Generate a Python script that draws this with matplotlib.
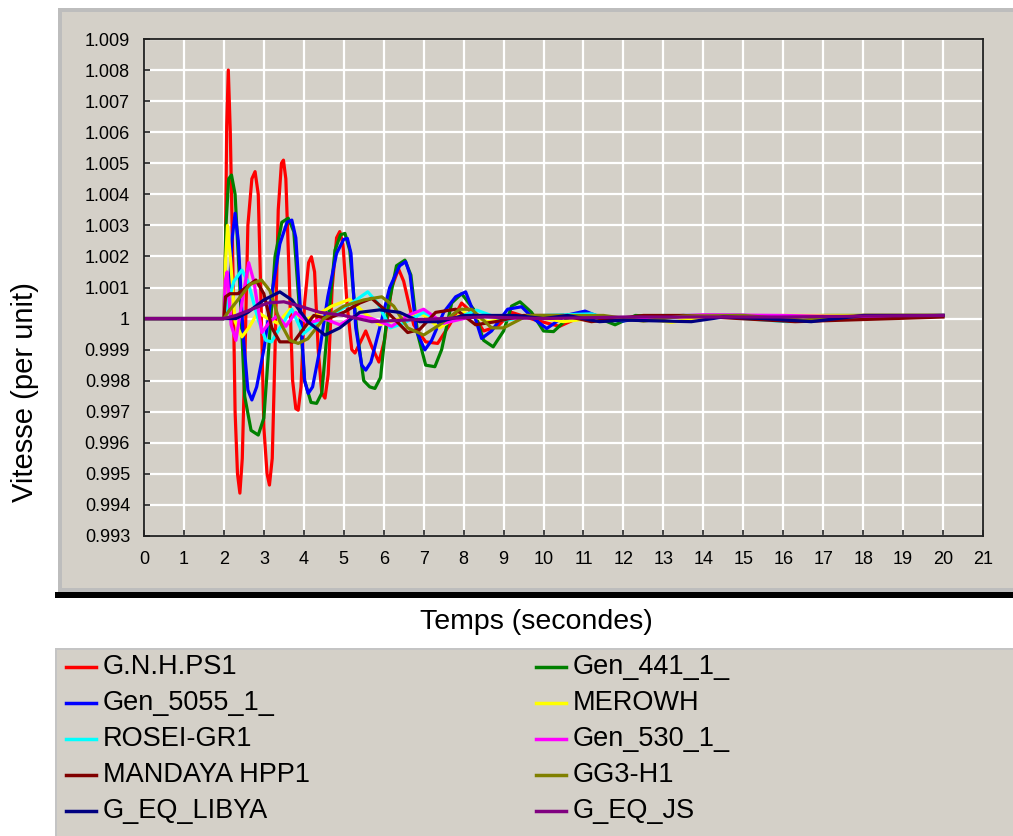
import matplotlib
matplotlib.use("Agg")
from matplotlib import pyplot as plt
from matplotlib.patches import Rectangle
from matplotlib.lines import Line2D

plt.rcParams['font.family'] = ['Liberation Sans', 'DejaVu Sans']

W, H = 1013, 836
PANEL = '#d4d0c8'

# series names / colours (legend order)
names = ['G.N.H.PS1', 'Gen_441_1_', 'Gen_5055_1_', 'MEROWH', 'ROSEI-GR1',
         'Gen_530_1_', 'MANDAYA HPP1', 'GG3-H1', 'G_EQ_LIBYA', 'G_EQ_JS']
colors = ['#ff0000', '#008000', '#0000ff', '#ffff00', '#00ffff',
          '#ff00ff', '#800000', '#808000', '#000080', '#800080']

# values (time in s, speed in p.u.)
t_gnh = [0, 2.0, 2.03, 2.07, 2.11, 2.16, 2.22, 2.28, 2.34, 2.40, 2.46, 2.53, 2.60, 2.70, 2.78,
         2.86, 2.93, 3.00, 3.08, 3.14, 3.21, 3.28, 3.36, 3.44, 3.49, 3.55, 3.63, 3.72, 3.80,
         3.86, 3.93, 4.02, 4.12, 4.19, 4.27, 4.36, 4.45, 4.53, 4.61, 4.71, 4.82, 4.90, 4.98,
         5.08, 5.20, 5.28, 5.40, 5.55, 5.70, 5.88, 6.02, 6.20, 6.37, 6.50, 6.75, 7.05, 7.35,
         7.65, 7.95, 8.20, 8.50, 8.85, 9.20, 9.80, 10.40, 11.0, 12.0, 14.0, 16.0, 18.0, 20.0]
v_gnh = [1.0, 1.0, 1.0012, 1.0062, 1.0080, 1.0060, 1.0020, 0.9970, 0.9950, 0.99438, 0.9955,
         0.9990, 1.0030, 1.0045, 1.00473, 1.0040, 1.0005, 0.9965, 0.9950, 0.99464, 0.9955,
         0.9990, 1.0035, 1.0050, 1.0051, 1.0045, 1.0015, 0.9980, 0.9971, 0.99705, 0.9978,
         1.0005, 1.0018, 1.00199, 1.0015, 0.9990, 0.9976, 0.99744, 0.9982, 1.0010, 1.0026,
         1.0028, 1.0024, 1.0005, 0.9990, 0.99889, 0.9992, 0.9996, 0.9991, 0.99860, 0.9993,
         1.0010, 1.0016, 1.0012, 0.9998, 0.99925, 0.99920, 0.9998, 1.0005, 1.0002, 0.9996,
         0.99975, 1.0002, 0.99995, 0.99975, 1.0001, 1.0, 1.00008, 1.00005, 1.0001, 1.0001]

t_441 = [0, 2.0, 2.05, 2.12, 2.19, 2.28, 2.40, 2.52, 2.68, 2.86, 3.00, 3.12, 3.28, 3.45, 3.61,
         3.75, 3.88, 4.02, 4.18, 4.32, 4.45, 4.60, 4.78, 4.92, 5.03, 5.15, 5.32, 5.50, 5.65,
         5.78, 5.92, 6.10, 6.32, 6.53, 6.68, 6.85, 7.05, 7.28, 7.45, 7.70, 7.95, 8.25, 8.50,
         8.74, 9.00, 9.20, 9.41, 9.70, 10.0, 10.25, 10.6, 10.99, 11.4, 11.79, 12.3, 13.0,
         14.0, 15.0, 16.0, 17.0, 18.0, 20.0]
v_441 = [1.0, 1.0, 1.0030, 1.0045, 1.00462, 1.0040, 1.0010, 0.9975, 0.9964, 0.99625, 0.9968,
         0.9990, 1.0020, 1.0031, 1.00323, 1.0028, 1.0005, 0.9980, 0.9973, 0.99727, 0.9976,
         0.9998, 1.0022, 1.0027, 1.00274, 1.0022, 0.9997, 0.9980, 0.9978, 0.99775, 0.9981,
         1.0003, 1.0017, 1.00188, 1.0014, 0.9995, 0.9985, 0.99845, 0.9990, 1.0005, 1.0008,
         1.0003, 0.9993, 0.99909, 0.9996, 1.0004, 1.00054, 1.0002, 0.9996, 0.99958, 1.0000,
         1.0002, 1.0000, 0.9998, 1.0001, 1.00005, 1.0001, 1.0001, 1.00005, 1.0001, 1.0001,
         1.0001]

t_5055 = [0, 2.0, 2.12, 2.20, 2.28, 2.36, 2.48, 2.60, 2.70, 2.82, 3.00, 3.20, 3.40, 3.58, 3.70,
          3.80, 3.92, 4.02, 4.11, 4.22, 4.40, 4.60, 4.82, 5.00, 5.09, 5.18, 5.30, 5.45, 5.55,
          5.68, 5.90, 6.15, 6.40, 6.55, 6.66, 6.82, 7.03, 7.20, 7.50, 7.80, 8.05, 8.22, 8.45,
          8.70, 9.10, 9.45, 9.75, 10.08, 10.55, 11.04, 11.5, 12.0, 12.6, 13.5, 15.0, 17.0, 20.0]
v_5055 = [1.0, 1.0, 1.0005, 1.0025, 1.00339, 1.0025, 0.9995, 0.9977, 0.99738, 0.9978, 0.9990,
          1.0008, 1.0024, 1.0031, 1.00317, 1.0026, 1.0002, 0.9980, 0.99759, 0.9978, 0.9990,
          1.0007, 1.0021, 1.00255, 1.00258, 1.0021, 0.9997, 0.9985, 0.99834, 0.9986, 0.9997,
          1.0010, 1.0017, 1.00183, 1.0014, 0.9996, 0.99899, 0.9993, 1.0002, 1.0007, 1.00086,
          1.0003, 0.99936, 0.9996, 1.0003, 1.00038, 1.0000, 0.99968, 1.0001, 1.00024, 1.0000,
          0.99992, 1.00005, 1.0001, 1.0001, 1.00005, 1.0001]

t_mero = [0, 2.0, 2.04, 2.09, 2.16, 2.28, 2.45, 2.62, 2.85, 3.10, 3.35, 3.65, 4.0, 4.3, 4.7,
          5.15, 5.5, 5.9, 6.4, 6.9, 7.4, 8.0, 8.6, 9.6, 10.5, 11.5, 12.5, 13.2, 14.0, 16.0, 20.0]
v_mero = [1.0, 1.0, 1.0018, 1.0030, 1.0020, 0.9999, 0.99941, 0.9997, 1.0002, 1.0000, 0.99985,
          1.0003, 0.99995, 1.0001, 1.0004, 1.00062, 1.0002, 0.9998, 1.0000, 1.0002, 0.9997,
          1.0002, 0.9999, 1.0001, 0.9999, 1.00005, 1.0, 0.99988, 1.00005, 1.0001, 1.0001]

t_rosei = [0, 2.0, 2.1, 2.25, 2.45, 2.6, 2.85, 3.05, 3.19, 3.4, 3.7, 3.98, 4.3, 4.8, 5.2, 5.6,
           5.85, 6.16, 6.5, 7.0, 7.5, 8.33, 9.0, 10.0, 11.2, 11.8, 13.0, 14.5, 16.1, 18.0, 20.0]
v_rosei = [1.0, 1.0, 1.0005, 1.0012, 1.00156, 1.0012, 1.0000, 0.9993, 0.99925, 0.9997, 1.0003,
           0.9995, 0.99985, 1.0002, 1.0005, 1.00086, 1.0005, 0.9997, 0.99985, 1.0002, 0.99985,
           1.00027, 0.99995, 1.0001, 1.00015, 0.99993, 1.0001, 1.00005, 0.9999, 1.00005, 1.0001]

t_530 = [0, 2.0, 2.03, 2.08, 2.18, 2.30, 2.45, 2.62, 2.75, 2.95, 3.15, 3.35, 3.55, 3.8, 4.1,
         4.5, 4.9, 5.3, 5.7, 6.2, 6.6, 7.0, 7.5, 8.0, 8.5, 9.3, 10.5, 12.0, 14.0, 16.0, 18.0, 20.0]
v_530 = [1.0, 1.0, 1.0012, 1.0015, 0.9998, 0.9993, 1.0005, 1.0018, 1.0012, 0.99955, 0.9999,
         1.0001, 0.99975, 1.0002, 0.99985, 1.0000, 0.9998, 1.0001, 1.0000, 0.99975, 1.0001,
         1.0003, 0.99985, 1.0000, 1.0001, 1.0000, 1.0001, 1.0000, 1.00012, 1.0001, 1.00005,
         1.0001]

t_mand = [0, 2.0, 2.04, 2.15, 2.35, 2.55, 2.80, 3.0, 3.2, 3.40, 3.75, 3.95, 4.25, 4.6, 5.0,
          5.4, 5.70, 6.1, 6.6, 6.9, 7.3, 7.8, 8.3, 8.8, 9.5, 10.5, 11.2, 12.5, 13.5, 16.3, 20.0]
v_mand = [1.0, 1.0, 1.0007, 1.0008, 1.0008, 1.0010, 1.00124, 1.0008, 0.9997, 0.99925, 0.99925,
          0.9996, 1.0001, 1.0000, 1.0002, 1.0005, 1.00065, 1.0002, 0.99955, 0.99965, 1.0002,
          1.0003, 0.9998, 0.9999, 1.0001, 1.0001, 0.9999, 1.0001, 1.0001, 0.9999, 1.00005]

t_gg3 = [0, 2.0, 2.1, 2.35, 2.65, 2.94, 3.15, 3.40, 3.65, 3.86, 4.1, 4.5, 5.0, 5.5, 5.95, 6.25,
         6.6, 7.0, 7.4, 7.9, 8.2, 8.7, 9.0, 9.6, 10.2, 11.5, 12.5, 13.5, 15.0, 16.5, 18.0, 20.0]
v_gg3 = [1.0, 1.0, 1.0002, 1.0006, 1.0011, 1.00124, 1.0009, 0.9999, 0.9993, 0.9992, 0.99935,
         1.0000, 1.0004, 1.0006, 1.0007, 1.0004, 0.9997, 0.99947, 0.9998, 1.0003, 1.0003,
         0.9997, 0.9997, 1.0001, 1.0001, 1.0001, 0.99992, 1.00008, 1.0001, 0.99995, 1.0001,
         1.0001]

t_libya = [0, 2.0, 2.3, 2.6, 3.0, 3.40, 3.7, 4.1, 4.53, 4.9, 5.4, 5.9, 6.4, 6.9, 7.4, 8.0, 8.6,
           9.3, 10.0, 10.6, 11.4, 12.0, 13.7, 14.5, 15.5, 16.7, 18.0, 19.5, 20.0]
v_libya = [1.0, 1.0, 1.0, 1.0002, 1.0006, 1.00086, 1.0006, 0.9999, 0.99947, 0.9997, 1.0002,
           1.00028, 1.0002, 0.9999, 0.9999, 1.0001, 1.0001, 1.0001, 1.0000, 1.0001, 0.9999,
           0.99995, 0.9999, 1.00005, 1.0000, 0.9999, 1.0001, 1.0001, 1.0001]

t_js = [0, 2.0, 2.3, 2.7, 3.1, 3.5, 3.9, 4.4, 5.0, 5.7, 6.5, 7.5, 8.5, 10.0, 12.0, 14.0, 16.0,
        18.0, 20.0]
v_js = [1.0, 1.0, 1.0001, 1.0003, 1.0005, 1.00054, 1.0004, 1.0002, 1.0001, 0.9999, 0.99995,
        1.0, 1.00005, 1.0, 1.00005, 1.00005, 1.00005, 1.00008, 1.0001]

series = [(t_gnh, v_gnh), (t_441, v_441), (t_5055, v_5055), (t_mero, v_mero),
          (t_rosei, v_rosei), (t_530, v_530), (t_mand, v_mand), (t_gg3, v_gg3),
          (t_libya, v_libya), (t_js, v_js)]

x_ticks = list(range(0, 22))
y_ticks = [0.993, 0.994, 0.995, 0.996, 0.997, 0.998, 0.999, 1.0,
           1.001, 1.002, 1.003, 1.004, 1.005, 1.006, 1.007, 1.008, 1.009]
y_tick_labels = ['0.993', '0.994', '0.995', '0.996', '0.997', '0.998', '0.999', '1',
                 '1.001', '1.002', '1.003', '1.004', '1.005', '1.006', '1.007', '1.008', '1.009']


def box(x0, y0, x1, y1):
    # pixel box (top-left origin) -> figure fraction
    return (x0 / W, 1 - y1 / H), (x1 - x0) / W, (y1 - y0) / H


fig = plt.figure(figsize=(W / 100, H / 100), dpi=100, facecolor='white')

# grey chart panel with a light border, black bottom bar, legend panel
for (x0, y0, x1, y1, c) in [(58, 8, 1013, 592, '#bdbdbd'), (62, 12, 1013, 588, PANEL),
                            (55, 592, 1013, 598, 'black'),
                            (55, 648, 1013, 836, '#c4c4c4'), (57, 650, 1013, 836, PANEL)]:
    xy, w, h = box(x0, y0, x1, y1)
    fig.add_artist(Rectangle(xy, w, h, transform=fig.transFigure, facecolor=c,
                             edgecolor='none', zorder=-5))

ax = fig.add_axes([144 / W, 1 - 536 / H, (983 - 144) / W, (536 - 39) / H])
ax.set_facecolor(PANEL)
for (tt, vv), c in zip(series, colors):
    ax.plot(tt, vv, color=c, lw=2.3)

ax.set_xlim(0, 21)
ax.set_ylim(0.993, 1.009)
ax.set_xticks(x_ticks)
ax.set_yticks(y_ticks)
ax.set_yticklabels(y_tick_labels)
ax.grid(True, color='white', lw=1.6)
ax.set_axisbelow(True)
ax.tick_params(direction='in', length=4.5, width=1.2, color='#202020',
               labelsize=13, pad=10)
ax.tick_params(axis='x', pad=10.5)
for s in ax.spines.values():
    s.set_color('#202020')
    s.set_linewidth(1.3)

fig.text(25 / W, 1 - 392 / H, 'Vitesse (per unit)', rotation=90, ha='center', va='center',
         fontsize=21)
fig.text(536 / W, 1 - 622 / H, 'Temps (secondes)', ha='center', va='center', fontsize=20.5)

# legend, two columns
for i, (n, c) in enumerate(zip(names, colors)):
    row, col = i // 2, i % 2
    yc = 1 - (667 + 36 * row) / H
    x0 = [66, 536][col]
    fig.add_artist(Line2D([x0 / W, (x0 + 30) / W], [yc, yc], transform=fig.transFigure,
                          color=c, lw=2.5))
    fig.text((x0 + 37) / W, yc, n, ha='left', va='center', fontsize=19.5)

fig.savefig('out.png', dpi=100, facecolor='white')
